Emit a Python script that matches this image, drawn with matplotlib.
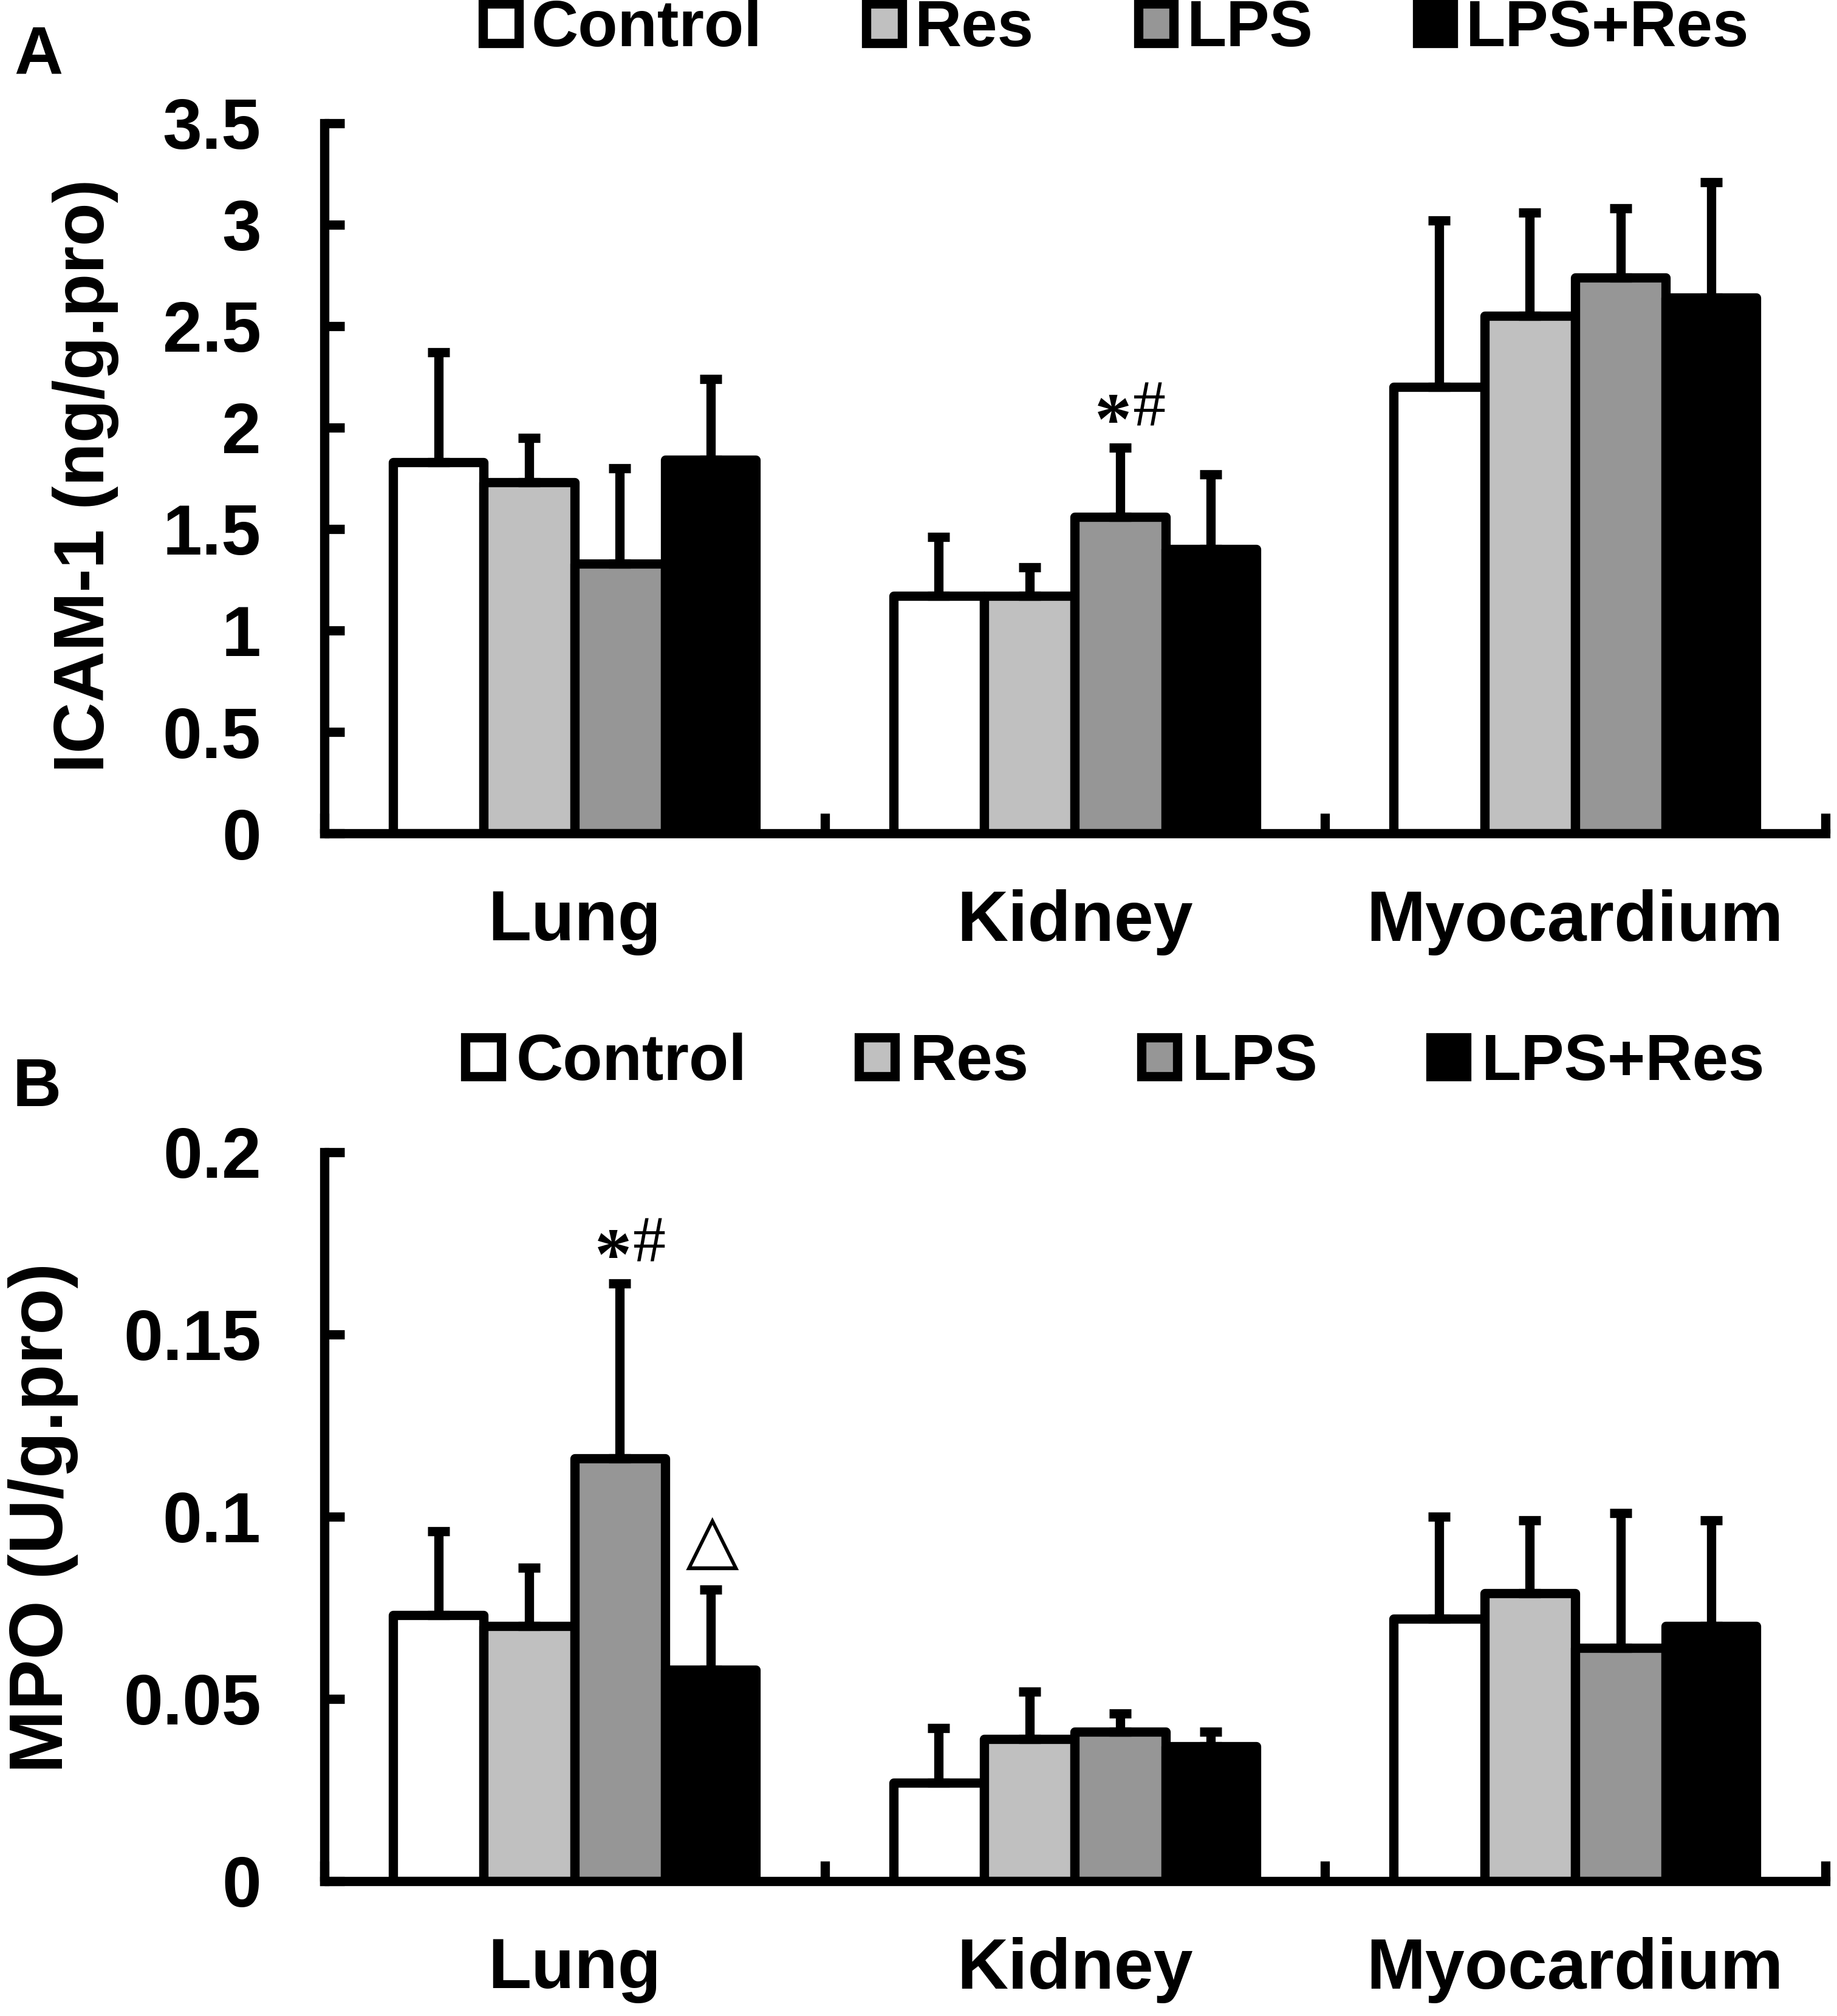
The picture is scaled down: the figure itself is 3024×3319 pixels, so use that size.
import numpy as np
import matplotlib.pyplot as plt

plt.rcParams['font.family'] = ['Liberation Sans', 'DejaVu Sans']
plt.rcParams['font.weight'] = 'bold'

organs = ['Lung', 'Kidney', 'Myocardium']
groups = ['Control', 'Res', 'LPS', 'LPS+Res']
colors = ['#FFFFFF', '#C0C0C0', '#969696', '#000000']

# panel A: ICAM-1 (ng/g.pro), rows = groups, cols = organs
icam_mean = [[1.83, 1.17, 2.20],
             [1.73, 1.17, 2.55],
             [1.33, 1.56, 2.74],
             [1.84, 1.40, 2.64]]
icam_sd = [[0.54, 0.29, 0.82],
           [0.22, 0.14, 0.51],
           [0.47, 0.34, 0.34],
           [0.40, 0.37, 0.57]]

# panel B: MPO (U/g.pro)
mpo_mean = [[0.073, 0.027, 0.072],
            [0.070, 0.039, 0.079],
            [0.116, 0.041, 0.064],
            [0.058, 0.037, 0.070]]
mpo_sd = [[0.023, 0.015, 0.028],
          [0.016, 0.013, 0.020],
          [0.048, 0.005, 0.037],
          [0.022, 0.004, 0.029]]

LW = 11
W = 0.1813
FS = 84

fig = plt.figure(figsize=(30.24, 33.19), dpi=100)


def panel(rect, means, sds, ymax, yticks, yticklabels, ylabel, ylabel_fs, ylabel_pos,
          letter, letter_pos, leg_pos, colsp, txtpad):
    ax = fig.add_axes(rect)
    x = np.arange(len(organs)) + 0.5
    for i, g in enumerate(groups):
        xs = x + (i - 1.5) * W
        m = np.array(means[i])
        s = np.array(sds[i])
        ax.bar(xs, m, W, color=colors[i], edgecolor='black', linewidth=LW,
               label=g, zorder=2, joinstyle='round')
        ax.errorbar(xs, m, yerr=[np.zeros_like(s), s], fmt='none', ecolor='black',
                    elinewidth=LW, capsize=13, capthick=LW, zorder=3)
    ax.set_xlim(0, 3)
    ax.set_ylim(0, ymax)
    for sp in ['top', 'right']:
        ax.spines[sp].set_visible(False)
    for sp in ['left', 'bottom']:
        ax.spines[sp].set_linewidth(LW)
    ax.set_yticks(yticks)
    ax.set_yticklabels(yticklabels)
    ax.tick_params(axis='y', direction='in', length=24, width=LW, pad=75,
                   labelsize=FS)
    ax.set_xticks([0, 1, 2, 3])
    ax.set_xticklabels([])
    ax.tick_params(axis='x', which='major', direction='in', length=24, width=LW)
    ax.set_xticks(x, minor=True)
    ax.set_xticklabels(organs, minor=True)
    ax.tick_params(axis='x', which='minor', length=0, pad=66, labelsize=FS)
    fig.text(ylabel_pos[0], ylabel_pos[1], ylabel, rotation=90, ha='center',
             va='center', fontsize=ylabel_fs, fontweight='bold')
    fig.text(letter_pos[0], letter_pos[1], letter, ha='center', va='center',
             fontsize=80, fontweight='bold')
    fig.legend(*ax.get_legend_handles_labels(), loc='center', bbox_to_anchor=leg_pos,
               ncol=4, frameon=False, fontsize=77, handlelength=0.55,
               handleheight=0.55, handletextpad=txtpad, columnspacing=colsp,
               borderpad=0, borderaxespad=0)
    return ax


axA = panel([0.1766, 0.5866, 0.817, 0.3523], icam_mean, icam_sd, 3.5,
            [0, 0.5, 1, 1.5, 2, 2.5, 3, 3.5],
            ['0', '0.5', '1', '1.5', '2', '2.5', '3', '3.5'],
            'ICAM-1 (ng/g.pro)', 84, (0.0466, 0.764), 'A', (0.021, 0.972),
            (0.6075, 0.9855), 1.6, 0.2)
axB = panel([0.1766, 0.0669, 0.817, 0.3616], mpo_mean, mpo_sd, 0.2,
            [0, 0.05, 0.1, 0.15, 0.2],
            ['0', '0.05', '0.1', '0.15', '0.2'],
            'MPO (U/g.pro)', 90, (0.0235, 0.247), 'B', (0.020, 0.460),
            (0.607, 0.4728), 1.73, 0.23)


def mark_sig(ax, gi, oi, means, sds, text):
    xc = oi + 0.5 + (gi - 1.5) * W
    yc = means[gi][oi] + sds[gi][oi]
    if text == '*#':
        ax.annotate('*', (xc, yc), xytext=(-8, 26), textcoords='offset points',
                    ha='center', va='center', fontsize=88,
                    family=['Liberation Serif', 'DejaVu Sans'], fontweight='bold')
        ax.annotate('#', (xc, yc), xytext=(35, 45), textcoords='offset points',
                    ha='center', va='center', fontsize=78,
                    family=['Liberation Serif', 'DejaVu Sans'], fontweight='normal')
    else:
        ax.annotate(text, (xc, yc), xytext=(2, 56), textcoords='offset points',
                    ha='center', va='center', fontsize=82,
                    family=['DejaVu Sans'], fontweight='normal')


mark_sig(axA, 2, 1, icam_mean, icam_sd, '*#')
mark_sig(axB, 2, 0, mpo_mean, mpo_sd, '*#')
mark_sig(axB, 3, 0, mpo_mean, mpo_sd, '△')

fig.savefig('out.png', dpi=100, facecolor='white')
